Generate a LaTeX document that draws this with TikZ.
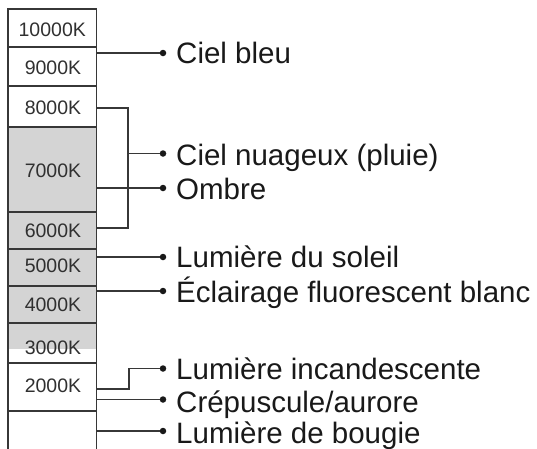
\documentclass[tikz,border=0pt]{standalone}
\usepackage{fontspec}
\setmainfont{Liberation Sans}
\usetikzlibrary{calc}
\definecolor{cellgray}{RGB}{212,212,212}
\definecolor{linegray}{RGB}{55,55,55}
\definecolor{txt}{RGB}{25,25,25}
\begin{document}
\begin{tikzpicture}[x=1pt,y=-1pt,
  cellbox/.style={draw=linegray,line width=1.8pt,rectangle,minimum width=88.5pt,inner sep=0pt,anchor=north},
  celltext/.style={text=txt!90!white,font=\fontsize{19.5}{20}\selectfont,inner sep=0pt},
  conn/.style={draw=linegray,line width=1.6pt},
  dot/.style={circle,fill=txt,inner sep=0pt,minimum size=6.5pt},
  lbl/.style={text=txt,font=\fontsize{29.5}{30}\selectfont,inner sep=0pt,anchor=base west}]
\useasboundingbox (0,0) rectangle (537,448);
% gray fills
\fill[cellgray] (8,126) rectangle (96.5,349);
% cells
\node[cellbox,minimum height=38pt] (c10000) at (52.25,8) {};
\node[cellbox,minimum height=39pt] (c9000) at (52.25,46) {};
\node[cellbox,minimum height=41pt] (c8000) at (52.25,85) {};
\node[cellbox,minimum height=85pt] (c7000) at (52.25,126) {};
\node[cellbox,minimum height=37pt] (c6000) at (52.25,211) {};
\node[cellbox,minimum height=37pt] (c5000) at (52.25,248) {};
\node[cellbox,minimum height=37pt] (c4000) at (52.25,285) {};
\node[cellbox,minimum height=40pt] (c3000) at (52.25,322) {};
\node[cellbox,minimum height=48pt] (c2000) at (52.25,362) {};
\node[cellbox,minimum height=60pt] (c1000) at (52.25,410) {};
% cell texts
\node[celltext] (t10000) at (52.25,29.5) {10000K};
\node[celltext] (t9000) at (53,67.5) {9000K};
\node[celltext] (t8000) at (53,107.5) {8000K};
\node[celltext] (t7000) at (53,171) {7000K};
\node[celltext] (t6000) at (53,230.5) {6000K};
\node[celltext] (t5000) at (53,265.5) {5000K};
\node[celltext] (t4000) at (53,305) {4000K};
\node[celltext] (t3000) at (53,348) {3000K};
\node[celltext] (t2000) at (53,386) {2000K};
% dots
\node[dot] (dCB) at (163,53) {};
\node[dot] (dCN) at (163,153.5) {};
\node[dot] (dOM) at (163,188) {};
\node[dot] (dLS) at (163,257) {};
\node[dot] (dEF) at (163,291) {};
\node[dot] (dLI) at (163,368.5) {};
\node[dot] (dCA) at (163,399.5) {};
\node[dot] (dLB) at (163,431) {};
% labels
\node[lbl] (lCB) at (176,63) {Ciel bleu};
\node[lbl] (lCN) at (176,165.5) {Ciel nuageux (pluie)};
\node[lbl] (lOM) at (176,199) {Ombre};
\node[lbl] (lLS) at (176,267.5) {Lumière du soleil};
\node[lbl] (lEF) at (176,302) {Éclairage fluorescent blanc};
\node[lbl] (lLI) at (176,379) {Lumière incandescente};
\node[lbl] (lCA) at (176,412.5) {Crépuscule/aurore};
\node[lbl] (lLB) at (176,443.5) {Lumière de bougie};
% bracket coordinates
\coordinate (bTop) at (128,108);
\coordinate (bBot) at (128,228);
\coordinate (sLow) at (129,389);
% connectors
\draw[conn] (c9000.east |- dCB) -- (dCB);
\draw[conn] (c8000.east |- bTop) -- (bTop) -- (bBot) -- (c6000.east |- bBot);
\draw[conn] (bTop |- dCN) -- (dCN);
\draw[conn] (c7000.east |- dOM) -- (dOM);
\draw[conn] (c5000.east |- dLS) -- (dLS);
\draw[conn] (c4000.east |- dEF) -- (dEF);
\draw[conn] (c2000.east |- sLow) -- (sLow) |- (dLI);
\draw[conn] (c2000.east |- dCA) -- (dCA);
\draw[conn] (c1000.east |- dLB) -- (dLB);
\end{tikzpicture}
\end{document}
